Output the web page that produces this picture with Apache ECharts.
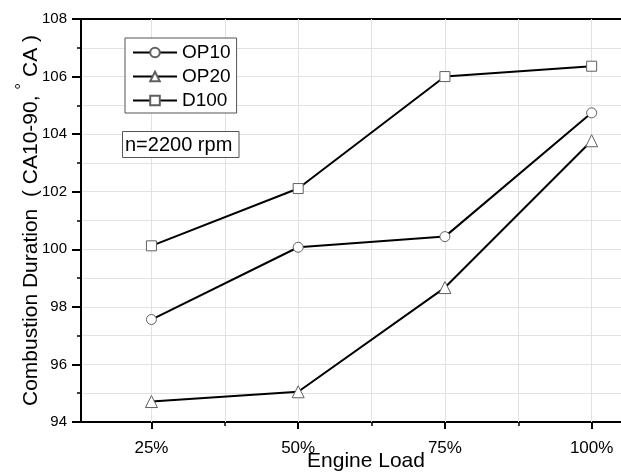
<!DOCTYPE html>
<html>
<head>
<meta charset="utf-8">
<script src="https://cdn.jsdelivr.net/npm/echarts@6/dist/echarts.min.js"></script>
<style>
html,body{margin:0;padding:0;background:#fff;}
#chart{width:621px;height:473px;}
</style>
</head>
<body>
<div id="chart"></div>
<script>
const loads = [25, 50, 75, 100];
const loadLabels = ['25%', '50%', '75%', '100%'];
const minorLoads = [37.5, 62.5, 87.5];
const gridLoads = [25, 37.5, 50, 62.5, 75, 87.5, 100];
const op10 = [97.56, 100.07, 100.44, 104.74];
const op20 = [94.71, 95.05, 98.67, 103.77];
const d100 = [100.12, 102.11, 106.0, 106.36];
const seriesNames = ['OP10', 'OP20', 'D100'];
const annotation = 'n=2200 rpm';

const FONT = 'Liberation Sans, Arial, sans-serif';
const grid = '#e2e2e2';

const chart = echarts.init(document.getElementById('chart'), null, {renderer: 'canvas'});

function pts(vals) { return loads.map((x, i) => [x, vals[i]]); }

const markerStyle = {color: '#fff', borderColor: '#606060', borderWidth: 1};
const lineStyle = {color: '#000', width: 2};

chart.setOption({
  animation: false,
  backgroundColor: '#fff',
  textStyle: {fontFamily: FONT},
  grid: {left: 81, right: 0, top: 19, bottom: 51, outerBoundsMode: 'none', containLabel: false},
  xAxis: [
    {
      type: 'value', min: 13, max: 105, position: 'bottom',
      axisLine: {show: true, lineStyle: {color: '#000', width: 2}},
      axisTick: {show: true, inside: false, length: 7, customValues: loads, lineStyle: {color: '#000', width: 2}},
      axisLabel: {show: true, customValues: loads, margin: 18, fontSize: 17, color: '#000', fontFamily: FONT,
        formatter: v => loadLabels[loads.indexOf(v)] || ''},
      splitLine: {show: false},
      name: 'Engine Load', nameLocation: 'middle', nameGap: 29, nameMoveOverlap: false,
      nameTextStyle: {fontSize: 21, color: '#000', fontFamily: FONT, padding: [0, 0, 0, 30]}
    },
    {
      type: 'value', min: 13, max: 105, position: 'bottom', offset: 0,
      axisLine: {show: false},
      axisTick: {show: true, inside: false, length: 4, customValues: minorLoads, lineStyle: {color: '#000', width: 1.5}},
      axisLabel: {show: false},
      splitLine: {show: false}
    },
    {
      type: 'value', min: 13, max: 105, position: 'top',
      axisLine: {show: true, lineStyle: {color: '#000', width: 2}},
      axisTick: {show: false}, axisLabel: {show: false}, splitLine: {show: false}
    }
  ],
  yAxis: {
    type: 'value', min: 94, max: 108, interval: 2,
    axisLine: {show: true, lineStyle: {color: '#000', width: 2}},
    axisTick: {show: true, inside: false, length: 9, lineStyle: {color: '#000', width: 2}},
    minorTick: {show: true, splitNumber: 2, length: 4, lineStyle: {color: '#000', width: 1.5}},
    axisLabel: {fontSize: 15, color: '#000', margin: 14, fontFamily: FONT},
    splitLine: {show: true, lineStyle: {color: grid, width: 1}},
    minorSplitLine: {show: true, lineStyle: {color: grid, width: 1}},
    name: 'Combustion Duration  ( CA10-90, {deg|°} CA )',
    nameLocation: 'middle', nameGap: 50, nameMoveOverlap: false,
    nameTextStyle: {
      fontSize: 21, color: '#000', fontFamily: FONT, lineHeight: 34, verticalAlign: 'middle',
      rich: {deg: {fontSize: 17, verticalAlign: 'top', lineHeight: 34, color: '#000', fontFamily: FONT}}
    }
  },
  legend: {
    orient: 'vertical', left: 125, top: 38, z: 10,
    data: seriesNames,
    backgroundColor: '#fff',
    borderColor: '#555', borderWidth: 1,
    padding: [5, 6, 3, 7],
    itemWidth: 44, itemHeight: 12, itemGap: 5,
    textStyle: {fontSize: 19, color: '#000', fontFamily: FONT}
  },
  graphic: [
    {type: 'rect', shape: {x: 122.5, y: 131.5, width: 116.5, height: 26}, style: {fill: '#fff', stroke: '#555', lineWidth: 1}, z: 100},
    {type: 'text', x: 125, y: 145, style: {text: annotation, font: '20px ' + FONT, fill: '#000', verticalAlign: 'middle'}, z: 101}
  ],
  series: [
    {
      name: 'grid', type: 'line', data: [], z: 1, silent: true,
      markLine: {
        z: 1, silent: true, symbol: 'none', label: {show: false},
        lineStyle: {color: grid, width: 1, type: 'solid'},
        emphasis: {disabled: true},
        data: gridLoads.map(v => ({xAxis: v}))
      }
    },
    {name: 'OP10', type: 'line', data: pts(op10), symbol: 'circle', symbolSize: 10, lineStyle: lineStyle, itemStyle: markerStyle, z: 3},
    {name: 'OP20', type: 'line', data: pts(op20), symbol: 'triangle', symbolSize: 12, lineStyle: lineStyle, itemStyle: markerStyle, z: 3},
    {name: 'D100', type: 'line', data: pts(d100), symbol: 'rect', symbolSize: 10, lineStyle: lineStyle, itemStyle: markerStyle, z: 3}
  ]
});
</script>
</body>
</html>
